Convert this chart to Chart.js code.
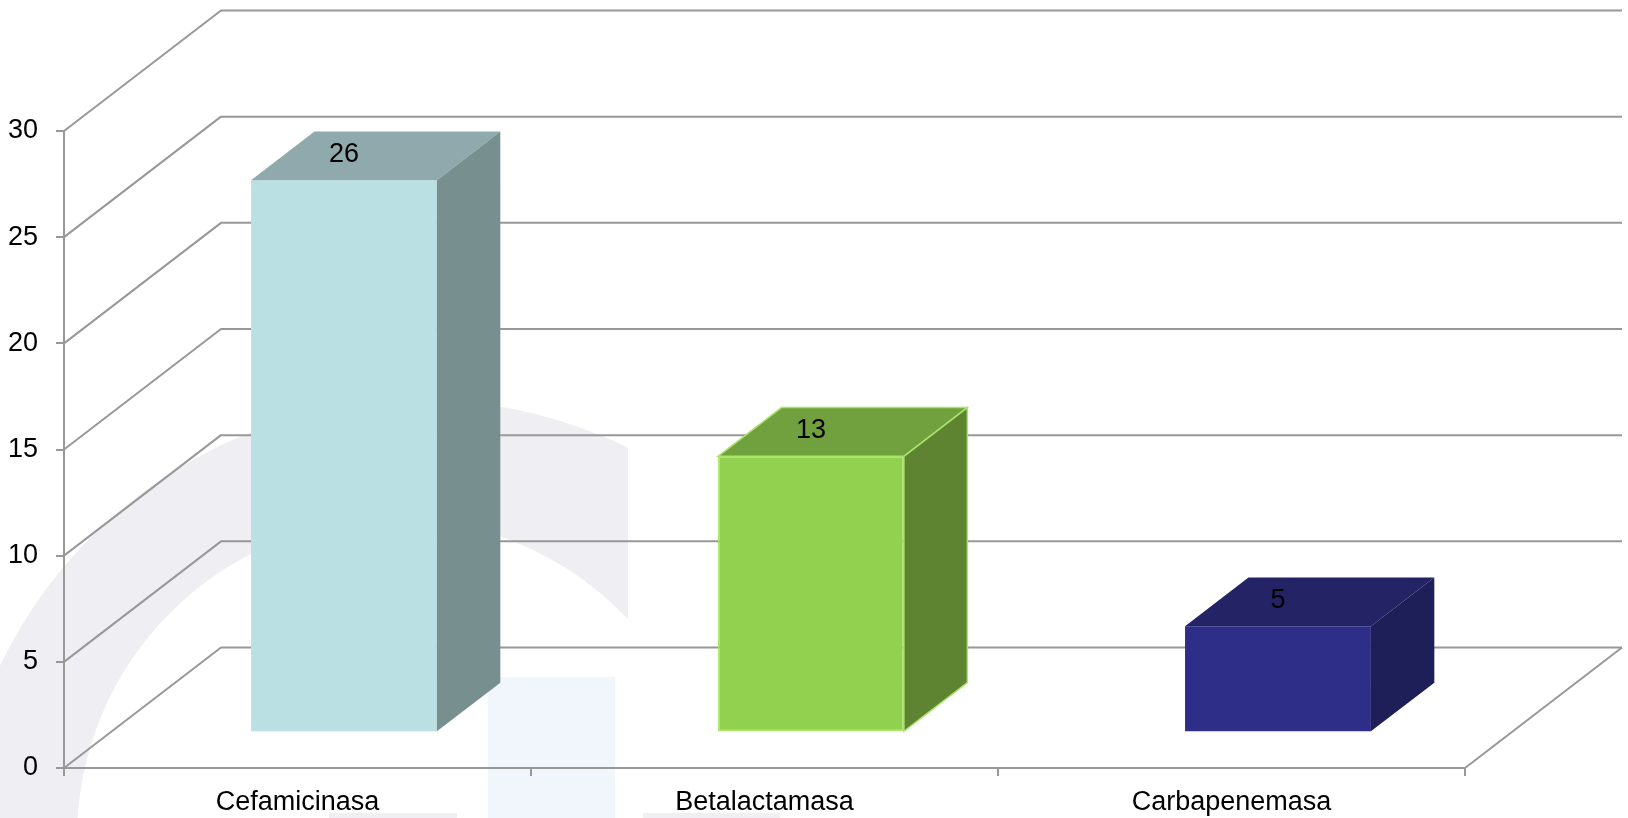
<!DOCTYPE html>
<html>
<head>
<meta charset="utf-8">
<title>Enzimas</title>
<script src="https://cdn.jsdelivr.net/npm/chart.js@4.4.1/dist/chart.umd.min.js"></script>
<style>
  html, body { margin: 0; padding: 0; background: #fff; }
  #wrap { position: relative; width: 1628px; height: 818px; }
</style>
</head>
<body>
<div id="wrap"><canvas id="chart"></canvas></div>
<script>
const categories = ['Cefamicinasa', 'Betalactamasa', 'Carbapenemasa'];
const counts = [26, 13, 5];
const yTicks = [0, 5, 10, 15, 20, 25, 30];

const frontColors = ['#bbe0e3', '#92d050', '#2e2e88'];
const topColors = ['#8fa9ac', '#71a03e', '#232365'];
const sideColors = ['#788f90', '#5e8432', '#1e1e58'];
const edgeColors = [null, '#a8e46a', null];

// 3D look: depth of the walls, where the bars stand inside it and how deep they are
const WALL_DX = 157, WALL_DY = -120.5;
const BAR_SHIFT = 0.296;
const BAR_DEPTH = 0.404;
const GRID = '#989898';
const FONT = "'Liberation Sans', Arial, sans-serif";
const FONT_SIZE = 27;

// faint logo behind the plot
const watermark = {
    id: 'watermark',
    beforeDraw(chart) {
        const ctx = chart.ctx;
        ctx.save();
        ctx.beginPath();
        ctx.rect(0, 0, 628, 818);
        ctx.clip();
        ctx.beginPath();
        ctx.arc(422, 868, 468, 0, Math.PI * 2);
        ctx.arc(396, 838, 319, 0, Math.PI * 2, true);
        ctx.fillStyle = '#eeeef3';
        ctx.fill('evenodd');
        ctx.restore();

        ctx.save();
        ctx.fillStyle = '#f0f6fb';
        ctx.fillRect(488, 677, 127, 141);
        ctx.fillStyle = '#f0f0f4';
        ctx.fillRect(329, 813, 128, 5);
        ctx.fillRect(643, 813, 137, 5);
        ctx.restore();
    }
};

const box3d = {
    id: 'box3d',
    beforeDatasetsDraw(chart) {
        const ctx = chart.ctx;
        const area = chart.chartArea;
        const y = chart.scales.y;

        // side wall diagonals, back wall lines and the floor edge
        ctx.save();
        ctx.strokeStyle = GRID;
        ctx.lineWidth = 2;
        ctx.lineJoin = 'round';
        yTicks.forEach(v => {
            const py = y.getPixelForValue(v);
            ctx.beginPath();
            ctx.moveTo(area.left, py);
            ctx.lineTo(area.left + WALL_DX, py + WALL_DY);
            ctx.lineTo(area.right + WALL_DX, py + WALL_DY);
            ctx.stroke();
        });
        const py0 = y.getPixelForValue(0);
        ctx.beginPath();
        ctx.moveTo(area.right, py0);
        ctx.lineTo(area.right + WALL_DX, py0 + WALL_DY);
        ctx.stroke();
        ctx.restore();

        // bars stand part-way back in the box
        ctx.save();
        ctx.translate(WALL_DX * BAR_SHIFT, WALL_DY * BAR_SHIFT);
    },
    afterDatasetsDraw(chart) {
        const ctx = chart.ctx;
        const ddx = WALL_DX * BAR_DEPTH, ddy = WALL_DY * BAR_DEPTH;
        const meta = chart.getDatasetMeta(0);

        meta.data.forEach((bar, i) => {
            const p = bar.getProps(['x', 'y', 'base', 'width'], true);
            const l = p.x - p.width / 2, r = p.x + p.width / 2;

            ctx.beginPath();
            ctx.moveTo(l, p.y);
            ctx.lineTo(l + ddx, p.y + ddy);
            ctx.lineTo(r + ddx, p.y + ddy);
            ctx.lineTo(r, p.y);
            ctx.closePath();
            ctx.fillStyle = topColors[i];
            ctx.fill();
            if (edgeColors[i]) { ctx.strokeStyle = edgeColors[i]; ctx.lineWidth = 1.5; ctx.stroke(); }

            ctx.beginPath();
            ctx.moveTo(r, p.y);
            ctx.lineTo(r + ddx, p.y + ddy);
            ctx.lineTo(r + ddx, p.base + ddy);
            ctx.lineTo(r, p.base);
            ctx.closePath();
            ctx.fillStyle = sideColors[i];
            ctx.fill();
            if (edgeColors[i]) { ctx.strokeStyle = edgeColors[i]; ctx.lineWidth = 1.5; ctx.stroke(); }

            ctx.fillStyle = '#000';
            ctx.font = FONT_SIZE + 'px ' + FONT;
            ctx.textAlign = 'center';
            ctx.textBaseline = 'middle';
            ctx.fillText(String(counts[i]), p.x, p.y + ddy / 2 - 1);
        });
        ctx.restore();
    }
};

new Chart(document.getElementById('chart'), {
    type: 'bar',
    data: {
        labels: categories,
        datasets: [{
            data: counts,
            backgroundColor: frontColors,
            borderColor: edgeColors.map(c => c || 'rgba(0,0,0,0)'),
            borderWidth: edgeColors.map(c => c ? 1.5 : 0),
            borderSkipped: false,
            categoryPercentage: 1,
            barPercentage: 0.398
        }]
    },
    options: {
        responsive: true,
        maintainAspectRatio: false,
        animation: false,
        layout: { padding: { top: 131, right: 163, left: 0, bottom: 0 } },
        plugins: { legend: { display: false }, tooltip: { enabled: false } },
        scales: {
            x: {
                afterFit(scale) { scale.height = 50; },
                grid: { drawOnChartArea: false, color: GRID, lineWidth: 2, tickLength: 8 },
                border: { display: true, color: GRID, width: 2 },
                ticks: { color: '#000', font: { family: FONT, size: FONT_SIZE }, padding: 10, maxRotation: 0 }
            },
            y: {
                min: 0,
                max: 30,
                afterFit(scale) { scale.width = 64; },
                grid: { drawOnChartArea: false, color: GRID, lineWidth: 2, tickLength: 8 },
                border: { display: true, color: GRID, width: 2 },
                ticks: { stepSize: 5, color: '#000', font: { family: FONT, size: FONT_SIZE }, padding: 18 }
            }
        }
    },
    plugins: [watermark, box3d]
});
</script>
</body>
</html>
